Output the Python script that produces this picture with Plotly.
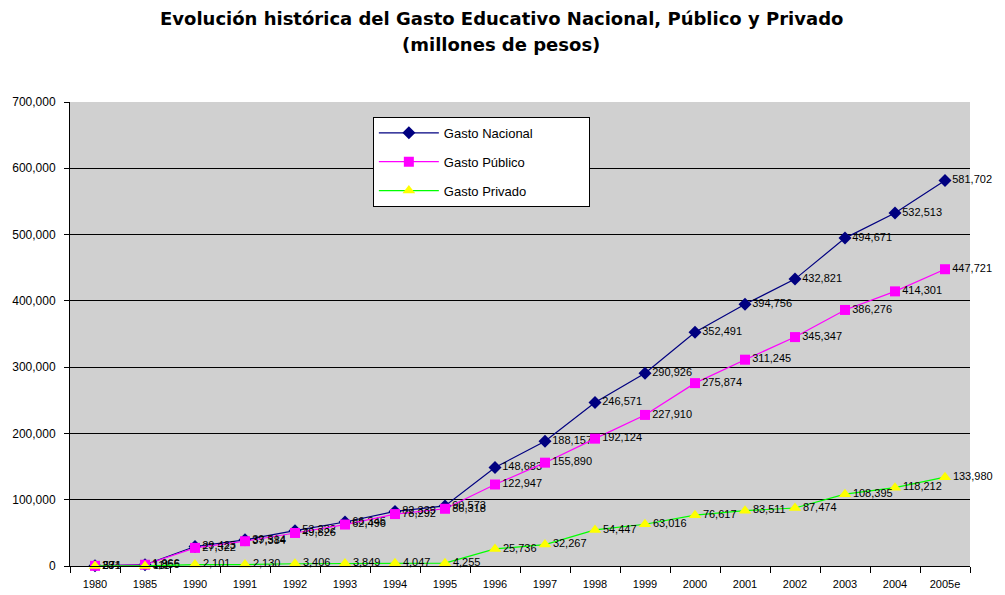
import plotly.graph_objects as go

years = ["1980", "1985", "1990", "1991", "1992", "1993", "1994", "1995", "1996",
         "1997", "1998", "1999", "2000", "2001", "2002", "2003", "2004", "2005e"]
nacional = [291, 1966, 29423, 39514, 53232, 66345, 82339, 90573, 148683,
            188157, 246571, 290926, 352491, 394756, 432821, 494671, 532513, 581702]
publico = [234, 1855, 27322, 37384, 49826, 62496, 78292, 86318, 122947,
           155890, 192124, 227910, 275874, 311245, 345347, 386276, 414301, 447721]
privado = [57, 111, 2101, 2130, 3406, 3849, 4047, 4255, 25736,
           32267, 54447, 63016, 76617, 83511, 87474, 108395, 118212, 133980]

FONT = "Liberation Sans, Arial, sans-serif"

def fmt(vals):
    return ["{:,}".format(v) for v in vals]

series = [
    ("Gasto Nacional", nacional, "#000080", "#000080", "diamond", 10),
    ("Gasto Público", publico, "#FF00FF", "#FF00FF", "square", 10),
    ("Gasto Privado", privado, "#00FF00", "#FFFF00", "triangle-up", 11),
]

fig = go.Figure()
for i, (name, vals, lc, mc, sym, ms) in enumerate(series):
    fig.add_trace(go.Scatter(
        x=years, y=vals, name=name + "\u00a0" * 14, mode="lines+markers+text",
        line=dict(color=lc, width=1.2),
        marker=dict(color=mc, symbol=sym, size=ms),
        text=fmt(vals), textposition="middle right",
        textfont=dict(family=FONT, size=11, color="black"),
        legendgroup=str(i), cliponaxis=False,
    ))

# the page adds an 8px body margin, so the figure is a bit smaller than the window
fig.update_layout(
    width=997, height=587,
    margin=dict(l=62, r=35, t=94, b=29),
    paper_bgcolor="white", plot_bgcolor="#D0D0D0",
    font=dict(family=FONT, size=11, color="black"),
    legend=dict(
        x=0.3365, y=0.968, xanchor="left", yanchor="top",
        bgcolor="white", bordercolor="black", borderwidth=1,
        font=dict(family=FONT, size=13), tracegroupgap=9,
        itemwidth=60,
    ),
    showlegend=True,
)
title_lines = ["Evolución histórica del Gasto Educativo Nacional, Público y Privado",
               "(millones de pesos)"]
for line, ypos in zip(title_lines, [1.181, 1.123]):
    fig.add_annotation(
        text="<b>" + line + "</b>",
        x=0.479, y=ypos, xref="paper", yref="paper", xanchor="center", yanchor="middle",
        showarrow=False,
        font=dict(family="DejaVu Sans, sans-serif", size=18, color="black"),
    )
fig.update_xaxes(
    type="category", range=[-0.5, len(years) - 0.5],
    tickson="boundaries", ticks="outside", ticklen=6, tickcolor="black",
    showline=True, linecolor="black", linewidth=1, showgrid=False,
    tickfont=dict(family=FONT, size=11), ticklabelstandoff=8, automargin=False,
)
fig.update_yaxes(
    range=[0, 700000], dtick=100000, tickformat=",",
    ticks="outside", ticklen=5, tickcolor="black",
    showline=True, linecolor="black", linewidth=1,
    showgrid=True, gridcolor="black", gridwidth=1, zeroline=False,
    tickfont=dict(family=FONT, size=12), ticklabelstandoff=6, automargin=False,
)

fig.write_html("out.html")
